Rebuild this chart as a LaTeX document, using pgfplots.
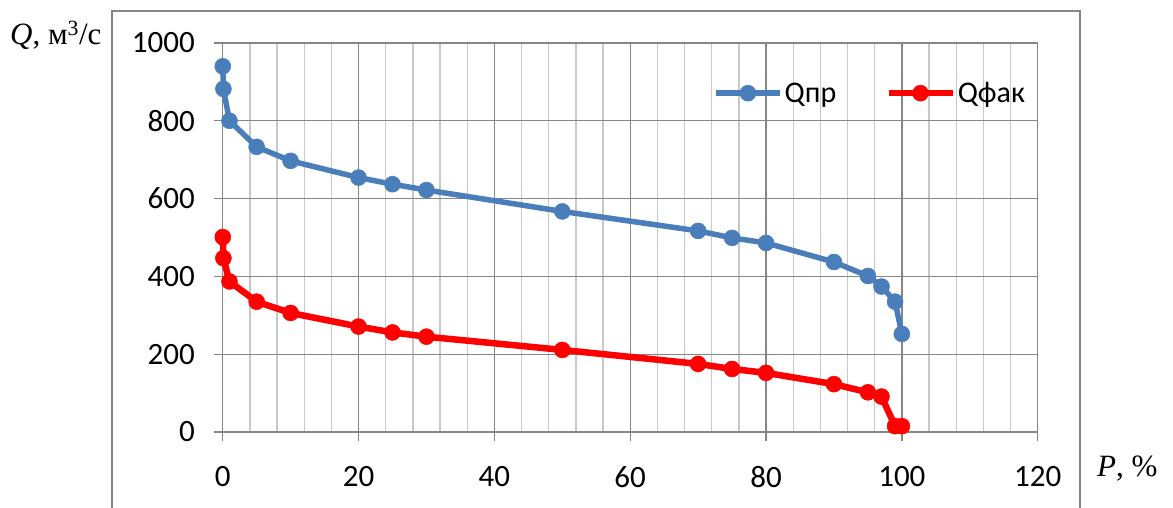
\documentclass[border=0pt]{standalone}
\usepackage{fontspec}
\setmainfont{Carlito}
\newfontfamily\tnr{Liberation Serif}
\usepackage{pgfplots}
\pgfplotsset{compat=1.18}
\definecolor{qblue}{RGB}{74,126,187}
\definecolor{qred}{RGB}{255,0,0}
\definecolor{gmaj}{RGB}{134,134,134}
\definecolor{gmin}{RGB}{200,200,200}
\begin{document}
\begin{tikzpicture}[x=1pt,y=1pt]
\useasboundingbox (0,0) rectangle (1173,508);
\draw[gmaj, line width=2pt] (112,-5) -- (112,497.3) -- (1080,497.3) -- (1080,-5);
\begin{axis}[
  at={(222.7pt,76pt)}, anchor=south west,
  scale only axis, width=815pt, height=389pt,
  xmin=0, xmax=120, ymin=0, ymax=1000,
  xtick={0,20,...,120}, ytick={0,200,...,1000},
  minor x tick num=4,
  tick pos=left, tick align=outside,
  major tick length=9pt, minor tick length=0pt,
  axis line style={gmaj, line width=1.3pt},
  tick style={gmaj, line width=1.3pt},
  grid=both,
  major grid style={gmaj, line width=1.3pt},
  minor grid style={gmin, line width=1.3pt},
  ticklabel style={font=\fontsize{31}{31}\selectfont},
  /pgf/number format/assume math mode=true,
  /pgf/number format/1000 sep={},
  xticklabel style={anchor=center, inner sep=0pt, yshift=-36pt},
  yticklabel style={anchor=east, inner sep=0pt, xshift=-18.7pt},
  clip=false,
  legend columns=2,
  legend cell align=left,
  legend style={draw=none, fill=none, at={(0.6016,0.871)}, anchor=west,
    inner sep=0pt, font=\fontsize{30}{30}\selectfont,
    /tikz/every even column/.append style={column sep=47pt}},
  legend image code/.code={\draw[#1, mark repeat=2, mark phase=2] plot coordinates {(0pt,0pt) (32pt,0pt) (64pt,0pt)};},
]
\addplot[qblue, line width=5.5pt, line join=round, mark=*, mark size=8pt,
  mark options={fill=qblue, draw=qblue, line width=0.5pt}] coordinates {
  (0.01,940) (0.1,882) (1,800) (5,733) (10,697) (20,654) (25,637) (30,622)
  (50,567) (70,517) (75,499) (80,486) (90,437) (95,401) (97,374) (99,335) (100,252)
};
\addlegendentry{Qпр}
\addplot[qred, line width=6.5pt, line join=round, mark=*, mark size=8pt,
  mark options={fill=qred, draw=qred, line width=0.5pt}] coordinates {
  (0.01,501) (0.1,447) (1,387) (5,335) (10,306) (20,271) (25,256) (30,245)
  (50,211) (70,175) (75,162) (80,152) (90,123) (95,102) (97,91) (99,15) (100,15)
};
\addlegendentry{Qфак}
\end{axis}
\node[anchor=base west, inner sep=0pt, font=\tnr\fontsize{31}{31}\selectfont] at (10,463) {\textit{Q}, м\textsuperscript{3}/с};
\node[anchor=base west, inner sep=0pt, font=\tnr\fontsize{31}{31}\selectfont] at (1097,31) {\textit{P}, \%};
\end{tikzpicture}
\end{document}
